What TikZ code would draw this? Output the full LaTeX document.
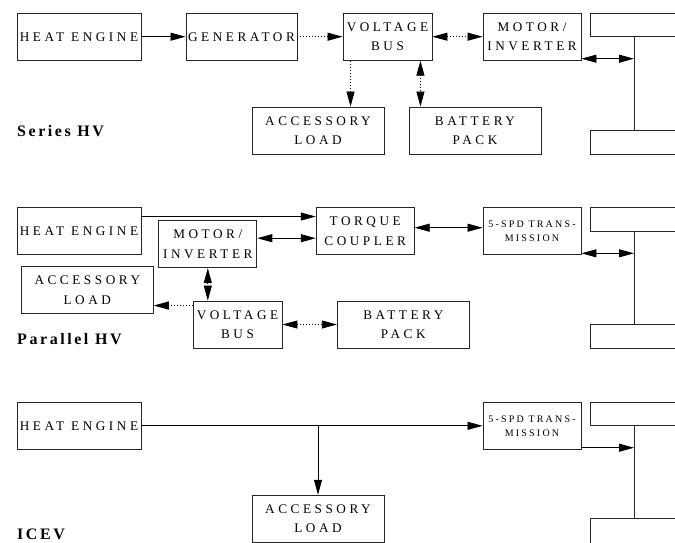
\documentclass[tikz,border=0pt]{standalone}
\usepackage{fontspec}
\setmainfont{Liberation Serif}
\newfontfamily\boxfont[LetterSpace=27]{Liberation Serif}
\newfontfamily\smallfont[LetterSpace=22]{Liberation Serif}
\newfontfamily\tagfont[LetterSpace=16]{Liberation Serif}
\usetikzlibrary{arrows.meta}

\begin{document}
\begin{tikzpicture}[x=1pt, y=-1pt,
  box/.style={draw=black!85, line width=0.9pt, inner sep=0pt, align=center,
    minimum height=47pt, font=\boxfont\fontsize{13.2}{19.5}\selectfont},
  small/.style={font=\smallfont\fontsize{10}{14}\selectfont},
  flow/.style={line width=0.8pt, -{Triangle[length=15pt, width=8pt]}},
  both/.style={line width=0.8pt, {Triangle[length=15pt, width=8pt]}-{Triangle[length=15pt, width=8pt]}},
  dots/.style={dash pattern=on 1pt off 2pt},
  wheel/.style={draw=black!85, line width=0.9pt},
  title/.style={font=\tagfont\bfseries\fontsize{16}{18}\selectfont, anchor=base west, inner sep=0pt}]
  \useasboundingbox (0,0) rectangle (675,542);
  \clip (0,0) rectangle (675,542);

  % Series HV
  \node[box, minimum width=124pt] (heS) at (79,36.7) {HEAT ENGINE};
  \node[box, minimum width=111pt] (genS) at (241.5,36.7) {GENERATOR};
  \node[box, minimum width=89pt] (busS) at (387.5,36.7) {VOLTAGE\\BUS};
  \node[box, minimum width=98pt] (motS) at (532,36.7) {MOTOR/\\INVERTER};
  \node[box, minimum width=132pt] (accS) at (318,130.5) {ACCESSORY\\LOAD};
  \node[box, minimum width=132pt] (batS) at (475,130.5) {BATTERY\\PACK};
  \draw[wheel] (590,13) rectangle (685,36) (590,130) rectangle (685,154)
    (634,36) -- (634,130);
  \coordinate (axS) at (634,58.7);
  \node[title] (tS) at (17,136.5) {Series HV};

  \draw[flow] (heS) -- (genS);
  \draw[flow, dots] (genS) -- (busS);
  \draw[both, dots] (busS) -- (motS);
  \draw[both] (motS.east |- axS) -- (axS);
  \draw[flow, dots] ([xshift=8pt]busS.south west) -- ([xshift=8pt]busS.south west |- accS.north);
  \draw[both, dots] ([xshift=-12pt]busS.south east) -- ([xshift=-12pt]busS.south east |- batS.north);

  % Parallel HV
  \node[box, minimum width=124pt] (heP) at (79,231) {HEAT ENGINE};
  \node[box, minimum width=98pt] (motP) at (207.8,244.2) {MOTOR/\\INVERTER};
  \node[box, minimum width=132pt] (accP) at (87.3,290.3) {ACCESSORY\\LOAD};
  \node[box, minimum width=89pt] (busP) at (237.5,324.5) {VOLTAGE\\BUS};
  \node[box, minimum width=98pt] (tqP) at (365.2,231.3) {TORQUE\\COUPLER};
  \node[box, small, minimum width=98pt] (trP) at (532,231.3) {5-SPD TRANS-\\MISSION};
  \node[box, minimum width=132pt] (batP) at (403.3,324.5) {BATTERY\\PACK};
  \draw[wheel] (590,207.7) rectangle (685,231) (590,324.7) rectangle (685,348)
    (634,231) -- (634,324.7);
  \coordinate (axP) at (634,253.3);
  \node[title] (tP) at (17,344) {Parallel HV};

  \draw[flow] ([yshift=-9.5pt]heP.north east) -- ([yshift=-9.5pt]heP.north east -| tqP.west);
  \draw[both] ([yshift=6pt]motP.east) -- ([yshift=6pt]motP.east -| tqP.west);
  \draw[both] ([yshift=3.6pt]tqP.east) -- ([yshift=3.6pt]tqP.east -| trP.west);
  \draw[both] (trP.east |- axP) -- (axP);
  \draw[both, dots] (motP.south) -- (motP.south |- busP.north);
  \draw[flow, dots] ([yshift=-5pt]busP.north west) -- ([yshift=-5pt]busP.north west -| accP.east);
  \draw[both, dots] (busP) -- (batP);

  % ICEV
  \node[box, minimum width=124pt] (heI) at (79,425.8) {HEAT ENGINE};
  \node[box, small, minimum width=98pt] (trI) at (532,425.8) {5-SPD TRANS-\\MISSION};
  \node[box, minimum width=132pt] (accI) at (318,518.7) {ACCESSORY\\LOAD};
  \draw[wheel] (590,402.3) rectangle (685,425) (590,518.3) rectangle (685,560)
    (634,425) -- (634,518.3);
  \coordinate (axI) at (634,447.7);
  \coordinate (brI) at (accI.north |- heI.east);
  \node[title] (tI) at (17,539) {ICEV};

  \draw[flow] (heI) -- (trI);
  \draw[flow] (brI) -- (accI.north);
  \draw[flow] (trI.east |- axI) -- (axI);
\end{tikzpicture}
\end{document}
